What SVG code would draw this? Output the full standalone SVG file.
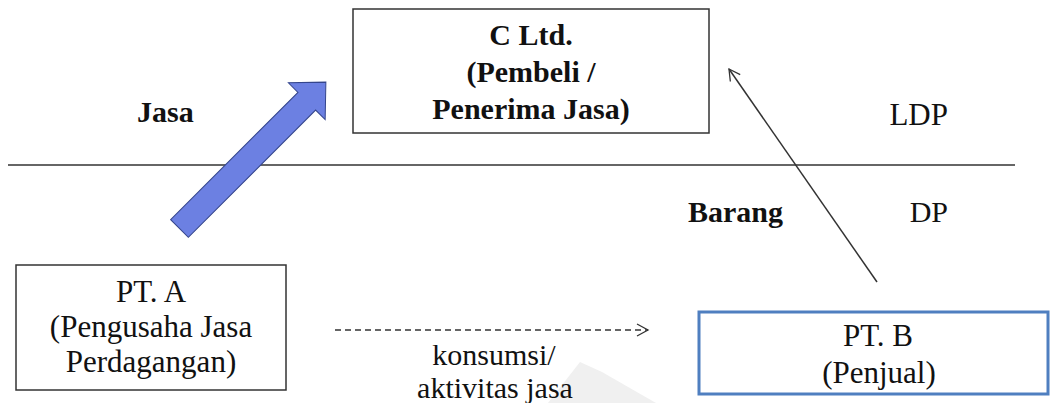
<svg xmlns="http://www.w3.org/2000/svg" width="1054" height="403" viewBox="0 0 1054 403">
  <style>
    .box { fill: #ffffff; stroke: #333333; stroke-width: 1.5; }
    .boxb { fill: #ffffff; stroke: #4f7fc0; stroke-width: 3; }
    text { font-family: 'Liberation Serif', 'DejaVu Serif', serif; font-size: 31px; fill: #111111; }
    .lbl { font-size: 30px; }
    .b { font-weight: bold; }
    .mid { text-anchor: middle; }
    .end { text-anchor: end; }
    .line { stroke: #333333; stroke-width: 1.5; fill: none; }
  </style>
  <defs>
    <marker id="open" markerWidth="14" markerHeight="14" refX="12" refY="7" orient="auto" markerUnits="userSpaceOnUse">
      <path d="M1,1 L12,7 L1,13" fill="none" stroke="#333333" stroke-width="1.3"/>
    </marker>
  </defs>

  <rect width="1054" height="403" fill="#ffffff"/>

  <!-- faint background mark -->
  <polygon points="548,403 580,362 602,372 656,403" fill="#f0f0f0"/>

  <!-- divider between LDP (top) and DP (bottom) -->
  <line x1="8" y1="165" x2="1015" y2="165" class="line"/>

  <!-- region labels -->
  <text class="lbl b" x="137" y="122">Jasa</text>
  <text class="lbl b" x="688" y="222">Barang</text>
  <text class="end" x="948" y="125" font-size="32">LDP</text>
  <text class="lbl end" x="948" y="222">DP</text>

  <g id="connectors">
    <!-- block arrow: jasa from PT. A to C Ltd. -->
    <g transform="translate(179.5,228.5) rotate(-45)">
      <polygon points="0,-12.5 180,-12.5 180,-26 207,0 180,26 180,12.5 0,12.5" fill="#6c80e2" stroke="#34458c" stroke-width="1"/>
    </g>
    <!-- barang from PT. B to C Ltd. -->
    <line x1="877" y1="282" x2="729" y2="69" class="line" stroke-width="1.3" marker-end="url(#open)"/>
    <!-- konsumsi / aktivitas jasa -->
    <line x1="335" y1="330" x2="648" y2="330" class="line" stroke-width="1.2" stroke-dasharray="6 4" marker-end="url(#open)"/>
    <text class="lbl mid" x="494" y="365">konsumsi/</text>
    <text class="lbl mid" x="495" y="398">aktivitas jasa</text>
  </g>

  <g id="c-ltd">
    <rect x="353" y="9" width="356" height="124" class="box"/>
    <text class="lbl b mid" x="531" y="45">C Ltd.</text>
    <text class="lbl b mid" x="531" y="82">(Pembeli /</text>
    <text class="lbl b mid" x="531" y="119">Penerima Jasa)</text>
  </g>

  <g id="pt-a">
    <rect x="16" y="265" width="270" height="125" class="box"/>
    <text class="mid" x="151" y="302">PT. A</text>
    <text class="mid" x="151" y="337">(Pengusaha Jasa</text>
    <text class="mid" x="151" y="372">Perdagangan)</text>
  </g>

  <g id="pt-b">
    <rect x="699" y="312" width="349" height="82" class="boxb"/>
    <text class="mid" x="878" y="346">PT. B</text>
    <text class="mid" x="879" y="383">(Penjual)</text>
  </g>
</svg>
